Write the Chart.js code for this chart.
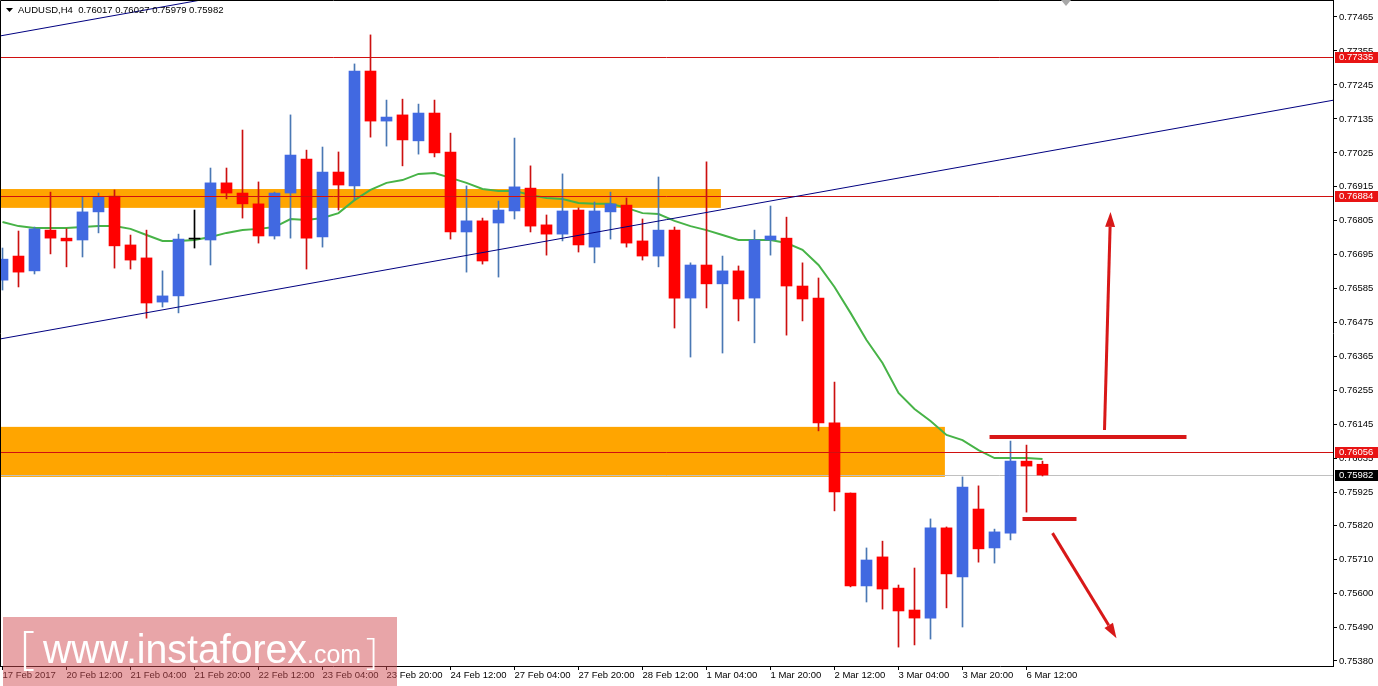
<!DOCTYPE html>
<html>
<head>
<meta charset="utf-8">
<title>AUDUSD H4</title>
<script src="https://cdn.jsdelivr.net/npm/chart.js@4.4.0/dist/chart.umd.min.js"></script>
<style>
  html, body { margin: 0; padding: 0; background: #fff; }
</style>
</head>
<body>
<canvas id="myChart" width="1378" height="686"></canvas>
<script>
// AUDUSD H4 bars (bar index 0 = 17 Feb 2017)

const opens = [
  0.76613, 0.76691, 0.76643, 0.76775, 0.76749, 0.76743, 0.76834, 0.76885, 0.76727, 0.76685,
  0.76542, 0.76562, 0.76746, 0.76743, 0.76928, 0.76895, 0.76860, 0.76756, 0.76895, 0.77005,
  0.76753, 0.76963, 0.76918, 0.77290, 0.77128, 0.77148, 0.77064, 0.77154, 0.77028, 0.76769,
  0.76805, 0.76798, 0.76837, 0.76911, 0.76792, 0.76762, 0.76840, 0.76720, 0.76834, 0.76856,
  0.76740, 0.76691, 0.76775, 0.76555, 0.76662, 0.76601, 0.76643, 0.76555, 0.76743, 0.76749,
  0.76594, 0.76555, 0.76151, 0.75924, 0.75623, 0.75717, 0.75616, 0.75545, 0.75519, 0.75811,
  0.75652, 0.75872, 0.75746, 0.75794, 0.76027, 0.76017
];
const highs = [
  0.76717, 0.76772, 0.76785, 0.76898, 0.76779, 0.76882, 0.76895, 0.76905, 0.76759, 0.76775,
  0.76643, 0.76762, 0.76840, 0.76976, 0.76976, 0.77099, 0.76931, 0.76898, 0.77148, 0.77034,
  0.77044, 0.77028, 0.77313, 0.77407, 0.77196, 0.77199, 0.77183, 0.77196, 0.77089, 0.76918,
  0.76814, 0.76869, 0.77073, 0.76983, 0.76824, 0.76957, 0.76847, 0.76866, 0.76898, 0.76879,
  0.76811, 0.76947, 0.76785, 0.76669, 0.76996, 0.76691, 0.76659, 0.76775, 0.76853, 0.76817,
  0.76669, 0.76620, 0.76283, 0.75924, 0.75746, 0.75768, 0.75626, 0.75681, 0.75840, 0.75814,
  0.75976, 0.75947, 0.75807, 0.76092, 0.76079, 0.76027
];
const lows = [
  0.76581, 0.76591, 0.76633, 0.76698, 0.76656, 0.76688, 0.76766, 0.76652, 0.76649, 0.76490,
  0.76526, 0.76507, 0.76717, 0.76662, 0.76876, 0.76814, 0.76733, 0.76746, 0.76749, 0.76649,
  0.76720, 0.76840, 0.76872, 0.77076, 0.77047, 0.76983, 0.77021, 0.77012, 0.76746, 0.76639,
  0.76665, 0.76623, 0.76811, 0.76769, 0.76694, 0.76740, 0.76704, 0.76669, 0.76746, 0.76720,
  0.76678, 0.76656, 0.76458, 0.76364, 0.76523, 0.76377, 0.76481, 0.76410, 0.76694, 0.76435,
  0.76481, 0.76125, 0.75866, 0.75620, 0.75571, 0.75548, 0.75425, 0.75432, 0.75451, 0.75552,
  0.75490, 0.75700, 0.75697, 0.75772, 0.75862, 0.75979
];
const closes = [
  0.76681, 0.76639, 0.76779, 0.76749, 0.76740, 0.76834, 0.76882, 0.76724, 0.76678, 0.76539,
  0.76562, 0.76746, 0.76746, 0.76928, 0.76895, 0.76860, 0.76756, 0.76895, 0.77018, 0.76749,
  0.76963, 0.76921, 0.77290, 0.77128, 0.77141, 0.77067, 0.77154, 0.77025, 0.76769, 0.76805,
  0.76675, 0.76840, 0.76915, 0.76788, 0.76762, 0.76837, 0.76727, 0.76837, 0.76860, 0.76733,
  0.76691, 0.76775, 0.76555, 0.76662, 0.76601, 0.76643, 0.76552, 0.76743, 0.76756, 0.76594,
  0.76552, 0.76151, 0.75927, 0.75623, 0.75707, 0.75613, 0.75542, 0.75519, 0.75811, 0.75662,
  0.75943, 0.75743, 0.75798, 0.76027, 0.76011, 0.75982
];

// green moving average, read per bar
const maValues = [
  0.76801, 0.76788, 0.76782, 0.76782, 0.76782, 0.76785, 0.76788, 0.76788, 0.76779, 0.76759,
  0.76740, 0.76740, 0.76743, 0.76753, 0.76766, 0.76775, 0.76779, 0.76785, 0.76811, 0.76808,
  0.76814, 0.76830, 0.76872, 0.76905, 0.76928, 0.76937, 0.76957, 0.76960, 0.76944, 0.76928,
  0.76908, 0.76902, 0.76902, 0.76889, 0.76879, 0.76876, 0.76863, 0.76860, 0.76860, 0.76847,
  0.76830, 0.76827, 0.76805, 0.76788, 0.76775, 0.76759, 0.76743, 0.76743, 0.76743, 0.76733,
  0.76711, 0.76662, 0.76591, 0.76507, 0.76419, 0.76345, 0.76248, 0.76196, 0.76157, 0.76112,
  0.76095, 0.76063, 0.76037, 0.76037, 0.76037, 0.76034
];

// one label every 4 bars
const xLabels = [
  '17 Feb 2017', '20 Feb 12:00', '21 Feb 04:00', '21 Feb 20:00', '22 Feb 12:00', '23 Feb 04:00',
  '23 Feb 20:00', '24 Feb 12:00', '27 Feb 04:00', '27 Feb 20:00', '28 Feb 12:00', '1 Mar 04:00',
  '1 Mar 20:00', '2 Mar 12:00', '3 Mar 04:00', '3 Mar 20:00', '6 Mar 12:00'
];
const yTicks = [
  0.77465, 0.77355, 0.77245, 0.77135, 0.77025, 0.76915, 0.76805, 0.76695, 0.76585, 0.76475,
  0.76365, 0.76255, 0.76145, 0.76035, 0.75925, 0.75820, 0.75710, 0.75600, 0.75490, 0.75380
];

// drawn objects (bar index / price)
const redLevels = [0.77335, 0.76884, 0.76056];
const lastPrice = 0.75982;
const zones = [[-5, 44.9, 0.76908, 0.76847], [-5, 58.9, 0.76138, 0.75976]];
const trendLines = [[0, 0.76424, 65, 0.77027], [0, 0.77405, 11, 0.77507]];
const arrows = [[68.875, 0.76128, 69.25, 0.76834], [65.625, 0.75794, 69.625, 0.75454]];
const segments = [[61.69, 0.76105, 74.0, 0.76105], [63.75, 0.75840, 67.125, 0.75840]];

const bars = opens.map((o, i) => i);
const bodyColor = bars.map(i => closes[i] > opens[i] ? '#4169E1' : (closes[i] < opens[i] ? '#FF0000' : '#000000'));
const wickColor = bars.map(i => closes[i] > opens[i] ? '#4A78B4' : (closes[i] < opens[i] ? '#CC1010' : '#000000'));

const font = { family: '"Liberation Sans", Arial, sans-serif', size: 9.5 };

function drawArrow(ctx, x0, y0, x1, y1) {
  const ang = Math.atan2(y1 - y0, x1 - x0);
  const head = 15, half = 5;
  const bx = x1 - head * Math.cos(ang), by = y1 - head * Math.sin(ang);
  ctx.beginPath(); ctx.moveTo(x0, y0); ctx.lineTo(bx, by); ctx.stroke();
  ctx.beginPath(); ctx.moveTo(x1, y1);
  ctx.lineTo(bx + half * Math.sin(ang), by - half * Math.cos(ang));
  ctx.lineTo(bx - half * Math.sin(ang), by + half * Math.cos(ang));
  ctx.closePath(); ctx.fill();
}

// keep axis labels from pushing the plot area inwards
function noPadding(s) {
  s.paddingLeft = 0; s.paddingRight = 0; s.paddingTop = 0; s.paddingBottom = 0;
}

const overlay = {
  id: 'overlay',
  beforeDatasetsDraw(chart) {
    const { ctx, chartArea: a, scales: { x, y } } = chart;
    ctx.save();
    ctx.beginPath(); ctx.rect(a.left, a.top, a.right - a.left, a.bottom - a.top); ctx.clip();
    ctx.fillStyle = '#FFA500';
    zones.forEach(z => {
      const x0 = x.getPixelForValue(z[0]), x1 = x.getPixelForValue(z[1]);
      const y0 = y.getPixelForValue(z[2]), y1 = y.getPixelForValue(z[3]);
      ctx.fillRect(x0, y0, x1 - x0, y1 - y0);
    });
    const yp = Math.round(y.getPixelForValue(lastPrice)) + 0.5;
    ctx.strokeStyle = '#C0C0C0'; ctx.lineWidth = 1;
    ctx.beginPath(); ctx.moveTo(a.left, yp); ctx.lineTo(a.right, yp); ctx.stroke();
    ctx.restore();
  },
  afterDatasetsDraw(chart) {
    const { ctx, chartArea: a, scales: { x, y } } = chart;
    ctx.save();
    ctx.beginPath(); ctx.rect(a.left, a.top, a.right - a.left, a.bottom - a.top); ctx.clip();
    // horizontal red levels
    ctx.strokeStyle = '#D01010'; ctx.lineWidth = 1;
    redLevels.forEach(v => {
      const yp = Math.round(y.getPixelForValue(v)) + 0.5;
      ctx.beginPath(); ctx.moveTo(a.left, yp); ctx.lineTo(a.right, yp); ctx.stroke();
    });
    // trend channel lines, extended over the whole area
    ctx.strokeStyle = '#000080'; ctx.lineWidth = 1;
    trendLines.forEach(t => {
      const x1 = x.getPixelForValue(t[0]), y1 = y.getPixelForValue(t[1]);
      const x2 = x.getPixelForValue(t[2]), y2 = y.getPixelForValue(t[3]);
      const k = (y2 - y1) / (x2 - x1);
      ctx.beginPath();
      ctx.moveTo(a.left, y1 + (a.left - x1) * k);
      ctx.lineTo(a.right, y1 + (a.right - x1) * k);
      ctx.stroke();
    });
    // hand-drawn arrows and marks
    ctx.strokeStyle = '#D81818'; ctx.fillStyle = '#D81818';
    ctx.lineWidth = 4; ctx.lineCap = 'butt';
    segments.forEach(s => {
      ctx.beginPath();
      ctx.moveTo(x.getPixelForValue(s[0]), y.getPixelForValue(s[1]));
      ctx.lineTo(x.getPixelForValue(s[2]), y.getPixelForValue(s[3]));
      ctx.stroke();
    });
    ctx.lineWidth = 3;
    arrows.forEach(r => drawArrow(ctx, x.getPixelForValue(r[0]), y.getPixelForValue(r[1]), x.getPixelForValue(r[2]), y.getPixelForValue(r[3])));
    ctx.restore();
  },
  afterDraw(chart) {
    const { ctx, chartArea: a, scales: { y } } = chart;
    ctx.save();
    // frame
    ctx.strokeStyle = '#000'; ctx.lineWidth = 1;
    ctx.beginPath();
    ctx.moveTo(a.left + 0.5, a.bottom); ctx.lineTo(a.left + 0.5, a.top + 0.5); ctx.lineTo(a.right, a.top + 0.5);
    ctx.stroke();

    // shift marker
    ctx.fillStyle = '#A8A8A8';
    ctx.beginPath(); ctx.moveTo(1061, 0); ctx.lineTo(1071, 0); ctx.lineTo(1066, 6); ctx.closePath(); ctx.fill();

    // price boxes on the axis
    ctx.font = '9.5px "Liberation Sans", Arial, sans-serif';
    ctx.textBaseline = 'middle'; ctx.textAlign = 'left';
    redLevels.forEach(v => {
      const yp = Math.round(y.getPixelForValue(v));
      ctx.fillStyle = '#E81414';
      ctx.fillRect(a.right + 2, yp - 5, 43, 11);
      ctx.fillStyle = '#fff';
      ctx.fillText(v.toFixed(5), a.right + 6, yp + 0.5);
    });
    const lp = Math.round(y.getPixelForValue(lastPrice));
    ctx.fillStyle = '#000';
    ctx.fillRect(a.right + 2, lp - 5, 43, 11);
    ctx.fillStyle = '#fff';
    ctx.fillText(lastPrice.toFixed(5), a.right + 6, lp + 0.5);

    // header
    const n = opens.length - 1;
    ctx.fillStyle = '#000';
    ctx.beginPath(); ctx.moveTo(6, 8); ctx.lineTo(13, 8); ctx.lineTo(9.5, 12); ctx.closePath(); ctx.fill();
    ctx.font = '9.5px "Liberation Sans", Arial, sans-serif';
    ctx.fillText('AUDUSD,H4  ' + [opens[n], highs[n], lows[n], closes[n]].map(v => v.toFixed(5)).join(' '), 18, 10.5);

    // watermark
    ctx.fillStyle = 'rgba(209,75,81,0.5)';
    ctx.fillRect(3, 617, 394, 69);
    ctx.fillStyle = '#fff';
    ctx.textBaseline = 'alphabetic';
    ctx.font = '300 46px "Open Sans", "Liberation Sans", sans-serif';
    ctx.fillText('[', 20, 664);
    ctx.font = '40px "Liberation Sans", Arial, sans-serif';
    const w = ctx.measureText('www.instaforex').width;
    ctx.save();
    ctx.translate(43, 663); ctx.scale(264 / w, 1);
    ctx.fillText('www.instaforex', 0, 0);
    ctx.restore();
    ctx.font = '25px "Liberation Sans", Arial, sans-serif';
    ctx.fillText('.com', 307, 663);
    ctx.font = '300 36px "Open Sans", "Liberation Sans", sans-serif';
    ctx.fillText(']', 366, 664);
    ctx.restore();
  }
};

const config = {
  type: 'bar',
  data: {
    datasets: [
      {
        type: 'line',
        data: bars.map(i => ({ x: i, y: maValues[i] })),
        borderColor: '#47B347',
        borderWidth: 2,
        pointRadius: 0,
        tension: 0,
        order: 3
      },
      {
        data: bars.map(i => ({ x: i, y: [lows[i], highs[i]] })),
        backgroundColor: wickColor,
        borderWidth: 0,
        barThickness: 1,
        grouped: false,
        order: 2
      },
      {
        data: bars.map(i => ({ x: i, y: [opens[i], closes[i]] })),
        backgroundColor: bodyColor,
        borderWidth: 0,
        barThickness: 11,
        minBarLength: 1,
        grouped: false,
        order: 1
      }
    ]
  },
  options: {
    responsive: false,
    animation: false,
    events: [],
    layout: { padding: 0 },
    plugins: {
      legend: { display: false },
      tooltip: { enabled: false }
    },
    scales: {
      x: {
        type: 'linear',
        offset: false,
        min: -0.15625,
        max: 83.15625,
        afterBuildTicks: s => { s.ticks = xLabels.map((l, i) => ({ value: i * 4 })); },
        afterFit: s => { s.height = 20; noPadding(s); },
        grid: { drawOnChartArea: false, offset: false, tickLength: 4, tickColor: '#000' },
        border: { color: '#000' },
        ticks: {
          autoSkip: false,
          maxRotation: 0,
          align: 'start',
          padding: 0,
          color: '#000',
          font: font,
          callback: (v, i) => xLabels[i]
        }
      },
      y: {
        position: 'right',
        offset: false,
        min: 0.753638,
        max: 0.7752,
        afterBuildTicks: s => { s.ticks = yTicks.map(v => ({ value: v })); },
        afterFit: s => { s.width = 45; noPadding(s); },
        grid: { drawOnChartArea: false, tickLength: 4, tickColor: '#000' },
        border: { color: '#000' },
        ticks: {
          padding: 2,
          color: '#000',
          font: font,
          callback: v => v.toFixed(5)
        }
      }
    }
  },
  plugins: [overlay]
};

const ctx = document.querySelector('#myChart');
let myChart = new Chart(ctx, config);
</script>
</body>
</html>
